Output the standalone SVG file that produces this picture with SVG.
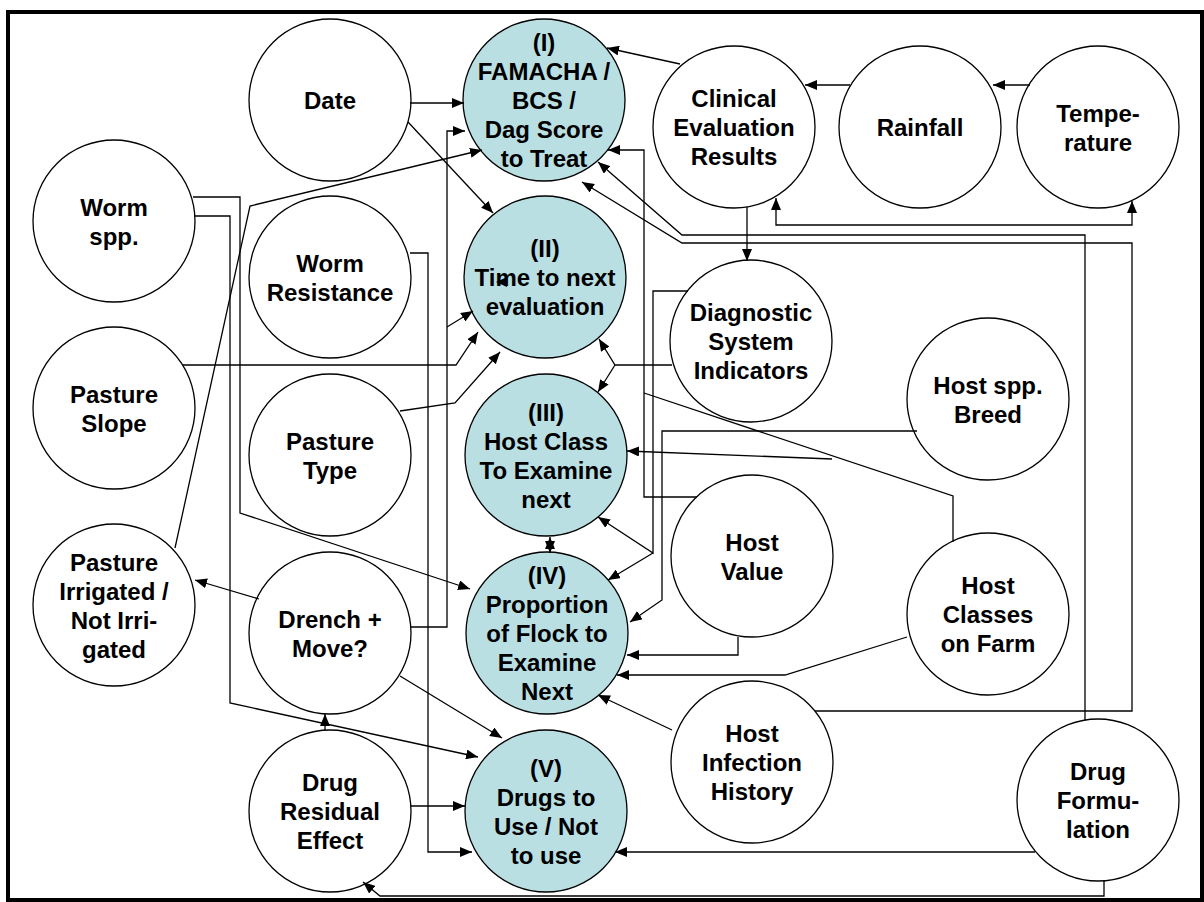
<svg xmlns="http://www.w3.org/2000/svg" width="1204" height="902" viewBox="0 0 1204 902">
<style>
.n{fill:#fff;stroke:#000;stroke-width:1.3}
.k{fill:#B9DFE3;stroke:#000;stroke-width:1.3}
text{font-family:"Liberation Sans",Arial,sans-serif;font-weight:bold;font-size:24px;text-anchor:middle;fill:#000}
.c path{fill:none;stroke:#000;stroke-width:1.3}
.c path.a{marker-end:url(#ah)}
.c path.b{marker-start:url(#ah);marker-end:url(#ah)}
</style>
<defs>
<marker id="ah" viewBox="0 0 12 10" refX="12" refY="5" markerWidth="12" markerHeight="10" markerUnits="userSpaceOnUse" orient="auto-start-reverse">
<path d="M0,0 L12,5 L0,10 z" fill="#000"/>
</marker>
</defs>
<rect x="8" y="12" width="1194" height="888" fill="#fff" stroke="#000" stroke-width="4"/>

<g id="date"><circle class="n" cx="330" cy="100" r="81"/><text x="330" y="109">Date</text></g>
<g id="n1"><circle class="k" cx="544" cy="100" r="81"/><text><tspan x="544" y="51">(I)</tspan><tspan x="544" y="80">FAMACHA /</tspan><tspan x="544" y="109">BCS /</tspan><tspan x="544" y="138">Dag Score</tspan><tspan x="544" y="167">to Treat</tspan></text></g>
<g id="clinical"><circle class="n" cx="734" cy="127" r="81"/><text><tspan x="734" y="107">Clinical</tspan><tspan x="734" y="136">Evaluation</tspan><tspan x="734" y="165">Results</tspan></text></g>
<g id="rainfall"><circle class="n" cx="920" cy="127" r="81"/><text x="920" y="136">Rainfall</text></g>
<g id="temperature"><circle class="n" cx="1098" cy="127" r="81"/><text><tspan x="1098" y="121.5">Tempe-</tspan><tspan x="1098" y="150.5">rature</tspan></text></g>
<g id="wormspp"><circle class="n" cx="114" cy="221" r="81"/><text><tspan x="114" y="215.5">Worm</tspan><tspan x="114" y="244.5">spp.</tspan></text></g>
<g id="wormres"><circle class="n" cx="330" cy="277" r="81"/><text><tspan x="330" y="271.5">Worm</tspan><tspan x="330" y="300.5">Resistance</tspan></text></g>
<g id="n2"><circle class="k" cx="545" cy="277" r="81"/><text><tspan x="545" y="257">(II)</tspan><tspan x="545" y="286">Time to next</tspan><tspan x="545" y="315">evaluation</tspan></text></g>
<g id="diag"><circle class="n" cx="751" cy="341" r="81"/><text><tspan x="751" y="321">Diagnostic</tspan><tspan x="751" y="350">System</tspan><tspan x="751" y="379">Indicators</tspan></text></g>
<g id="slope"><circle class="n" cx="114" cy="408" r="81"/><text><tspan x="114" y="402.5">Pasture</tspan><tspan x="114" y="431.5">Slope</tspan></text></g>
<g id="ptype"><circle class="n" cx="330" cy="455" r="81"/><text><tspan x="330" y="449.5">Pasture</tspan><tspan x="330" y="478.5">Type</tspan></text></g>
<g id="n3"><circle class="k" cx="546" cy="455" r="81"/><text><tspan x="546" y="420.5">(III)</tspan><tspan x="546" y="449.5">Host Class</tspan><tspan x="546" y="478.5">To Examine</tspan><tspan x="546" y="507.5">next</tspan></text></g>
<g id="hostspp"><circle class="n" cx="988" cy="399" r="81"/><text><tspan x="988" y="393.5">Host spp.</tspan><tspan x="988" y="422.5">Breed</tspan></text></g>
<g id="hostvalue"><circle class="n" cx="752" cy="556" r="81"/><text><tspan x="752" y="550.5">Host</tspan><tspan x="752" y="579.5">Value</tspan></text></g>
<g id="classes"><circle class="n" cx="988" cy="614" r="81"/><text><tspan x="988" y="594">Host</tspan><tspan x="988" y="623">Classes</tspan><tspan x="988" y="652">on Farm</tspan></text></g>
<g id="irrigated"><circle class="n" cx="114" cy="605" r="81"/><text><tspan x="114" y="570.5">Pasture</tspan><tspan x="114" y="599.5">Irrigated /</tspan><tspan x="114" y="628.5">Not Irri-</tspan><tspan x="114" y="657.5">gated</tspan></text></g>
<g id="drench"><circle class="n" cx="330" cy="633" r="81"/><text><tspan x="330" y="627.5">Drench +</tspan><tspan x="330" y="656.5">Move?</tspan></text></g>
<g id="n4"><circle class="k" cx="547" cy="633" r="81"/><text><tspan x="547" y="584">(IV)</tspan><tspan x="547" y="613">Proportion</tspan><tspan x="547" y="642">of Flock to</tspan><tspan x="547" y="671">Examine</tspan><tspan x="547" y="700">Next</tspan></text></g>
<g id="infection"><circle class="n" cx="752" cy="762" r="81"/><text><tspan x="752" y="742">Host</tspan><tspan x="752" y="771">Infection</tspan><tspan x="752" y="800">History</tspan></text></g>
<g id="residual"><circle class="n" cx="330" cy="811" r="81"/><text><tspan x="330" y="791">Drug</tspan><tspan x="330" y="820">Residual</tspan><tspan x="330" y="849">Effect</tspan></text></g>
<g id="n5"><circle class="k" cx="546" cy="811" r="81"/><text><tspan x="546" y="776.5">(V)</tspan><tspan x="546" y="805.5">Drugs to</tspan><tspan x="546" y="834.5">Use / Not</tspan><tspan x="546" y="863.5">to use</tspan></text></g>
<g id="formulation"><circle class="n" cx="1098" cy="800" r="81"/><text><tspan x="1098" y="780">Drug</tspan><tspan x="1098" y="809">Formu-</tspan><tspan x="1098" y="838">lation</tspan></text></g>

<g id="connectors" class="c">
<path class="a" d="M410,103 L464,103"/>
<path class="a" d="M408,122 L493,213"/>
<path class="a" d="M411,627 L447,627 L447,131 L465,131"/>
<path class="a" d="M447,327 L473,311"/>
<path class="a" d="M410,253 L428,253 L428,852 L472,852"/>
<path class="a" d="M193,197 L240,197 L240,513 L470,589"/>
<path class="a" d="M194,216 L230,216 L230,703 L478,757"/>
<path class="a" d="M175,548 L250,206 L482,150"/>
<path class="a" d="M183,365 L456,365 L478,332"/>
<path class="a" d="M400,411 L455,403 L500,352"/>
<path class="a" d="M259,599 L195,580"/>
<path class="a" d="M325,730 L325,714"/>
<path class="a" d="M400,676 L502,738"/>
<path class="a" d="M411,806 L465,806"/>
<path class="b" d="M550,537 L550,553"/>
<path class="a" d="M688,291 L653,291 L653,553 L598,517"/>
<path class="a" d="M653,553 L608,580"/>
<path class="a" d="M697,497 L644,497 L644,150 L608,150"/>
<path d="M953,542 L953,496 L644,393"/>
<path class="a" d="M672,365 L615,365 L599,339"/>
<path class="a" d="M615,365 L598,392"/>
<path class="a" d="M832,459 L627,451"/>
<path class="a" d="M917,431 L662,431 L662,600 L630,622"/>
<path class="a" d="M738,637 L738,655 L627,655"/>
<path class="a" d="M907,637 L785,675 L617,675"/>
<path class="a" d="M672,730 L598,695"/>
<path class="a" d="M1035,852 L615,852"/>
<path class="a" d="M1104,881 L1104,896 L380,896 L363,882"/>
<path class="a" d="M1085,720 L1085,235 L682,235 L598,162"/>
<path class="a" d="M815,711 L1132,711 L1132,243 L682,243 L582,182"/>
<path class="a" d="M680,64 L607,48"/>
<path class="a" d="M850,85 L805,85"/>
<path class="a" d="M1030,85 L993,85"/>
<path class="a" d="M747,207 L747,261"/>
<path class="b" d="M776,198 L776,225 L1132,225 L1132,201"/>
<polygon points="496,282 507,277 507,287" fill="#000"/>
</g>
</svg>
